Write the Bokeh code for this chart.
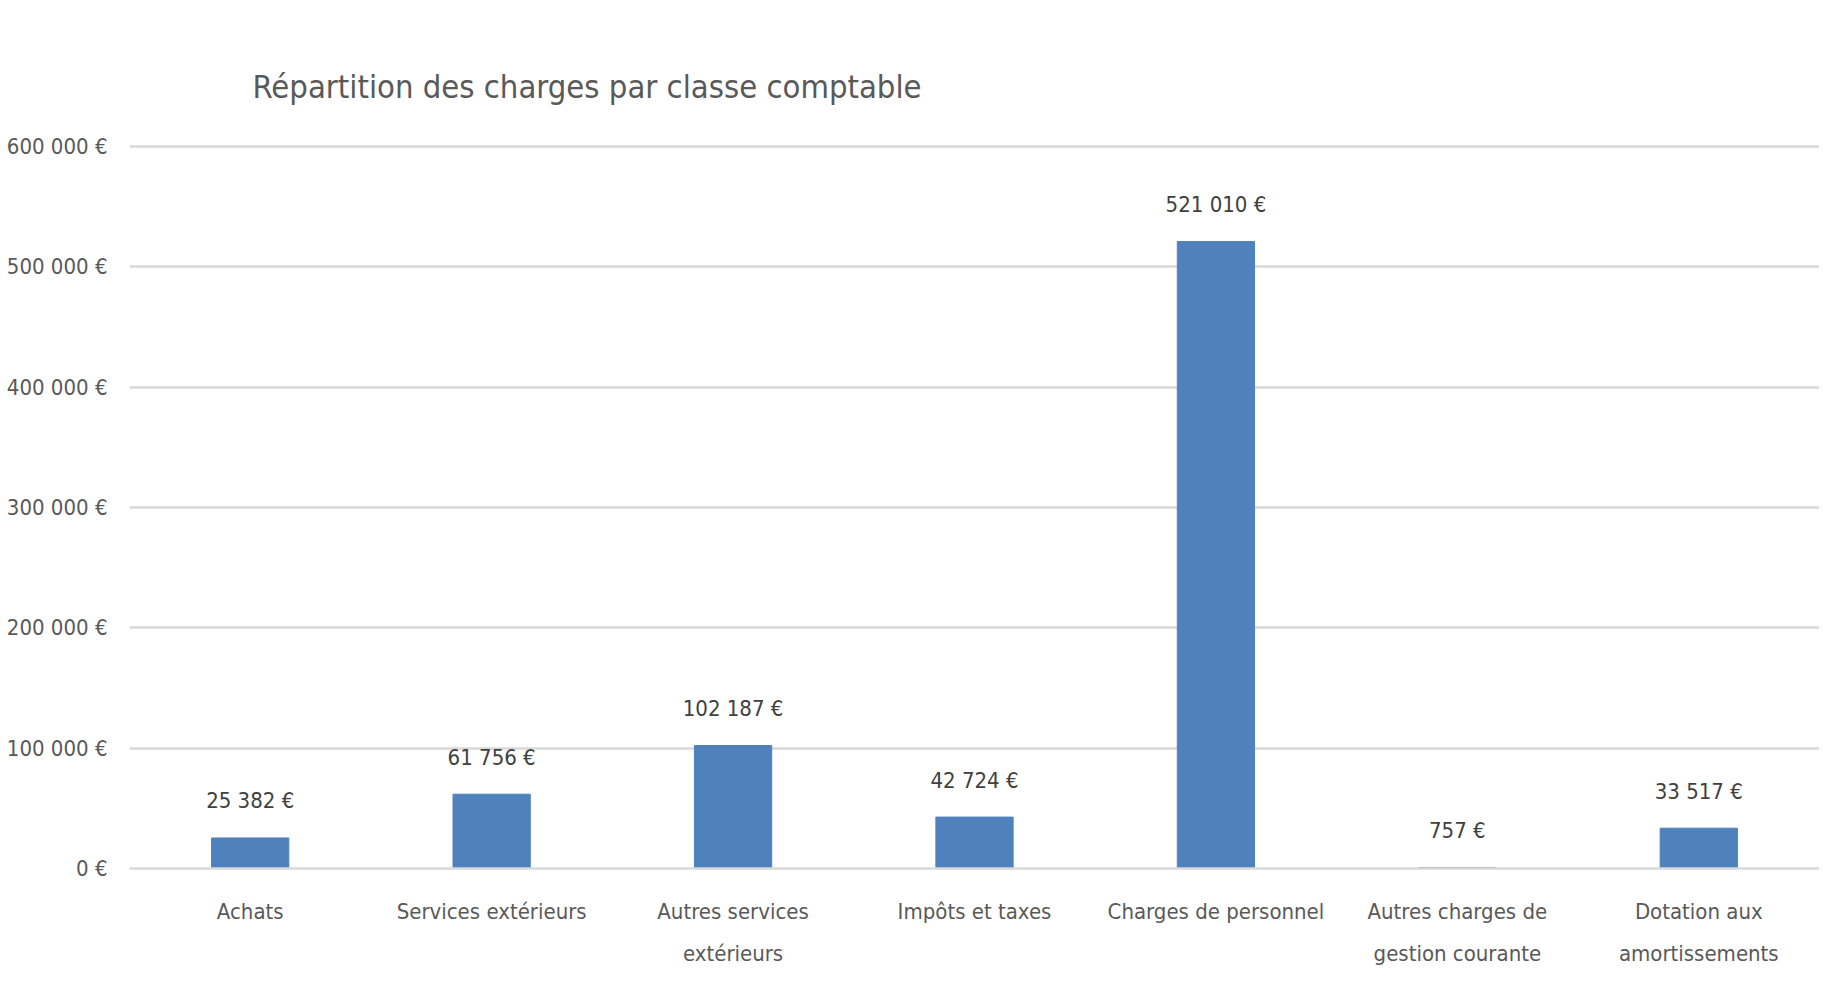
from bokeh.plotting import figure
from bokeh.models import ColumnDataSource, LabelSet, FixedTicker
from bokeh.core.properties import value
from bokeh.embed import file_html
from bokeh.resources import INLINE

# ---- data ----
categories = ["Achats", "Services extérieurs", "Autres services\nextérieurs",
              "Impôts et taxes", "Charges de personnel",
              "Autres charges de\ngestion courante", "Dotation aux\namortissements"]
values = [25382, 61756, 102187, 42724, 521010, 757, 33517]
value_labels = ["25 382 €", "61 756 €", "102 187 €", "42 724 €", "521 010 €", "757 €", "33 517 €"]
y_ticks = [0, 100000, 200000, 300000, 400000, 500000, 600000]
y_tick_labels = ["0 €", "100 000 €", "200 000 €", "300 000 €", "400 000 €", "500 000 €", "600 000 €"]
title_text = "Répartition des charges par classe comptable"

FONT = "'DejaVu Sans Condensed', 'Liberation Sans', sans-serif"
TXT = "#595959"
GRID = "#D9D9D9"
BAR = "#4F81BD"

p = figure(x_range=categories, y_range=(0, 605000), width=1819, height=972,
           output_backend="svg", toolbar_location=None,
           min_border_left=129, min_border_right=0, min_border_top=140, min_border_bottom=104)
p.title.text = title_text
p.title.text_font = FONT
p.title.text_font_size = "32.5px"
p.title.text_font_style = "normal"
p.title.text_color = TXT
p.title.align = "left"
p.title.offset = 123
p.title.standoff = 69

src = ColumnDataSource(dict(cat=categories, val=values, lab=value_labels))
p.vbar(x="cat", top="val", width=0.32, color=BAR, source=src)

labels = LabelSet(x="cat", y="val", text="lab", source=src, y_offset=37,
                  text_align="center", text_baseline="middle",
                  text_font=value(FONT), text_font_size=value("22px"), text_color=value("#404040"))
p.add_layout(labels)

p.outline_line_color = None
p.xgrid.visible = False
p.ygrid.grid_line_color = GRID
p.ygrid.grid_line_width = 2.5

p.yaxis.ticker = FixedTicker(ticks=y_ticks)
p.yaxis.major_label_overrides = {t: l for t, l in zip(y_ticks, y_tick_labels)}
p.yaxis.axis_line_color = None
p.yaxis.major_tick_line_color = None
p.yaxis.minor_tick_line_color = None
p.yaxis.major_label_standoff = 16
p.yaxis.major_label_text_font = FONT
p.yaxis.major_label_text_font_size = "22px"
p.yaxis.major_label_text_color = TXT

p.xaxis.axis_line_color = GRID
p.xaxis.axis_line_width = 2.5
p.xaxis.major_tick_line_color = None
p.xaxis.minor_tick_line_color = None
p.xaxis.major_label_standoff = 24
p.xaxis.major_label_text_font = FONT
p.xaxis.major_label_text_font_size = "22px"
p.xaxis.major_label_text_color = TXT
p.xaxis.major_label_text_line_height = 1.7

open("out.html", "w").write(file_html(p, INLINE))
